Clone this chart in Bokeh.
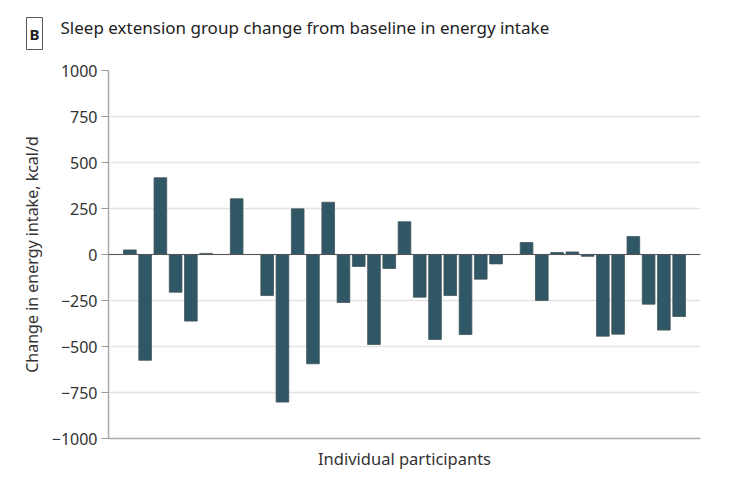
import math
from bokeh.plotting import figure
from bokeh.models import ColumnDataSource, Range1d, FixedTicker, Span, Label
from bokeh.embed import file_html
from bokeh.resources import INLINE

# ---- data ----
participants = list(range(1, 38))
energy_change = [25, -575, 417, -205, -362, 6, None, 303, None, -223,
                 -802, 248, -594, 284, -261, -65, -489, -76, 178, -232,
                 -462, -223, -435, -134, -51, None, 65, -250, 11, 14,
                 -10, -444, -433, 98, -270, -411, -337]
y_ticks = [-1000, -750, -500, -250, 0, 250, 500, 750, 1000]

title_text = "Sleep extension group change from baseline in energy intake"
panel_letter = "B"
y_label = "Change in energy intake, kcal/d"
x_label = "Individual participants"

tops = [float("nan") if v is None else v for v in energy_change]
src = ColumnDataSource(dict(x=participants, top=tops))

FONT = "Noto Sans"
BAR = "#2f5765"

p = figure(width=715, height=476, output_backend="svg", toolbar_location=None,
           x_range=Range1d(-0.4, 38.4), y_range=Range1d(-1000, 1000),
           min_border_left=108, min_border_right=15, min_border_top=70,
           min_border_bottom=38)
p.outline_line_color = None
p.background_fill_color = "white"

p.vbar(x="x", top="top", bottom=0, width=0.83, source=src,
       fill_color=BAR, line_color="#44555c", line_width=0.8)

p.add_layout(Span(location=0, dimension="width", line_color="#555555",
                  line_width=1.2))

# y axis
p.yaxis.ticker = FixedTicker(ticks=y_ticks)
p.yaxis.axis_label = y_label
p.yaxis.axis_label_text_font = FONT
p.yaxis.axis_label_text_font_size = "16px"
p.yaxis.axis_label_text_font_style = "normal"
p.yaxis.axis_label_text_color = "#333333"
p.yaxis.axis_label_standoff = 6
p.yaxis.major_label_text_font = FONT
p.yaxis.major_label_text_font_size = "16px"
p.yaxis.major_label_text_color = "#333333"
p.yaxis.major_label_standoff = 4
p.yaxis.major_tick_in = 0
p.yaxis.major_tick_out = 7
p.yaxis.major_tick_line_color = "#999999"
p.yaxis.minor_tick_line_color = None
p.yaxis.axis_line_color = "#aaaaaa"
p.yaxis.axis_line_width = 1.5

# x axis
p.xaxis.ticker = FixedTicker(ticks=[])
p.xaxis.axis_label = x_label
p.xaxis.axis_label_text_font = FONT
p.xaxis.axis_label_text_font_size = "16.5px"
p.xaxis.axis_label_text_font_style = "normal"
p.xaxis.axis_label_text_color = "#333333"
p.xaxis.axis_label_standoff = 8
p.xaxis.major_tick_line_color = None
p.xaxis.minor_tick_line_color = None
p.xaxis.axis_line_color = "#aaaaaa"
p.xaxis.axis_line_width = 1.5

# grid
p.xgrid.grid_line_color = None
p.ygrid.ticker = FixedTicker(ticks=y_ticks)
p.ygrid.grid_line_color = "#e4e4e4"
p.ygrid.grid_line_width = 1.5

# title
p.title.text = title_text
p.title.text_font = FONT
p.title.text_font_size = "17px"
p.title.text_font_style = "normal"
p.title.text_color = "#222222"
p.title.align = "left"
p.title.offset = -48
p.title.standoff = 0

# panel letter box, placed in a side panel so it is not clipped to the frame
p.add_layout(Label(x=34, y=33, x_units="canvas", y_units="canvas",
                   text=panel_letter, text_font=FONT, text_font_size="15px",
                   text_font_style="bold", text_color="#222222",
                   text_align="center", text_baseline="middle",
                   border_line_color="#555555", border_line_width=1,
                   background_fill_color="white", padding=(3, 6)), "above")

open("out.html", "w").write(file_html(p, INLINE))
